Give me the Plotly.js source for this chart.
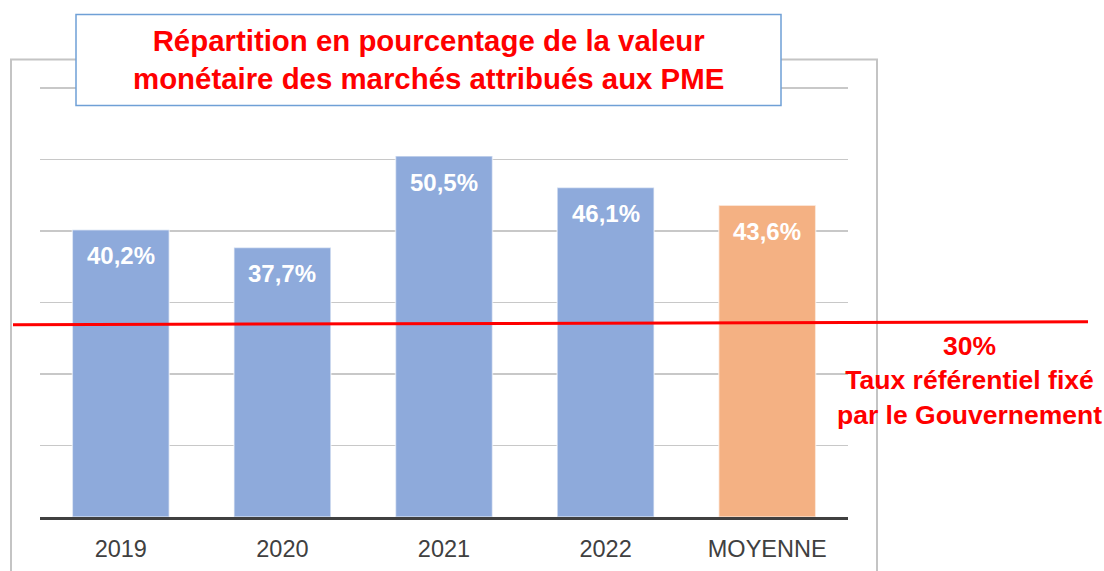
<!DOCTYPE html>
<html><head><meta charset="utf-8">
<script src="https://cdn.plot.ly/plotly-3.0.1.min.js"></script>
<style>html,body{margin:0;padding:0;background:#fff}#chart{width:1104px;height:571px}</style>
</head><body><div id="chart"></div>
<script>
const categories = ["2019", "2020", "2021", "2022", "MOYENNE"];
const values = [40.2, 37.7, 50.5, 46.1, 43.6];
const valueLabels = ["40,2%", "37,7%", "50,5%", "46,1%", "43,6%"];
const barColors = ["#8eaadb", "#8eaadb", "#8eaadb", "#8eaadb", "#f4b183"];
const refLineY = [26.9, 27.3];
const refLabel = "30%<br>Taux référentiel fixé<br>par le Gouvernement";
const titleText = "Répartition en pourcentage de la valeur<br>monétaire des marchés attribués aux PME";

const L = 40, R = 848, Y0 = 517.5, Y60 = 87.7, W = 1104, H = 571;
const yMax = 60.3;
const T = Y0 - (Y0 - Y60) * yMax / 60;
const px = x => (x - L) / (R - L);
const py = y => (Y0 - y) / (Y0 - T);

const FONT = "Liberation Sans, Arial, sans-serif";

const trace = {
  type: "bar", x: categories, y: values,
  marker: {color: barColors, line: {color: "rgba(255,255,255,0.55)", width: 1.5}},
  hoverinfo: "none", cliponaxis: false
};

const annotations = categories.map((c, i) => ({
  x: i, y: values[i], xref: "x", yref: "y", text: valueLabels[i],
  showarrow: false, yanchor: "middle", yshift: -26,
  font: {family: FONT, size: 24, color: "#ffffff", weight: "bold"}
}));
annotations.push({
  xref: "paper", yref: "paper", x: px(428.5), y: py(58.5), text: titleText,
  showarrow: false, xanchor: "center", yanchor: "middle", align: "center",
  font: {family: FONT, size: 29.4, color: "#ff0000", weight: "bold"}
});
annotations.push({
  xref: "paper", yref: "paper", x: px(969), y: py(380.5), text: refLabel,
  showarrow: false, xanchor: "center", yanchor: "middle", align: "center",
  font: {family: FONT, size: 26.5, color: "#ff0000", weight: "bold"}
});

const shapes = [
  {type: "rect", xref: "paper", yref: "paper", x0: px(11), x1: px(877), y0: py(600), y1: py(59),
   line: {color: "#c4c4c4", width: 2}, fillcolor: "rgba(0,0,0,0)", layer: "below"},
  {type: "rect", xref: "paper", yref: "paper", x0: px(76), x1: px(781), y0: py(105), y1: py(14),
   line: {color: "#6fa0d6", width: 1.5}, fillcolor: "#ffffff", layer: "above"},
  {type: "line", xref: "paper", yref: "y", x0: px(13), x1: px(1088), y0: refLineY[0], y1: refLineY[1],
   line: {color: "#ff0000", width: 3}, layer: "above"}
];

const layout = {
  width: W, height: H,
  margin: {l: L, r: W - R, t: T, b: H - Y0, pad: 0},
  paper_bgcolor: "#ffffff", plot_bgcolor: "rgba(0,0,0,0)",
  showlegend: false, bargap: 0.4,
  xaxis: {
    type: "category", range: [-0.5, categories.length - 0.5], showgrid: false,
    showline: true, linecolor: "#404040", linewidth: 3,
    ticks: "", ticklabelstandoff: 9,
    tickfont: {family: FONT, size: 23.5, color: "#404040"}, fixedrange: true
  },
  yaxis: {
    range: [0, yMax], tick0: 0, dtick: 10, showticklabels: false, showgrid: true,
    gridcolor: "#c8c8c8", gridwidth: 1.5, zeroline: false, showline: false, fixedrange: true
  },
  shapes: shapes, annotations: annotations
};

Plotly.newPlot("chart", [trace], layout, {staticPlot: true, displayModeBar: false});
</script></body></html>
